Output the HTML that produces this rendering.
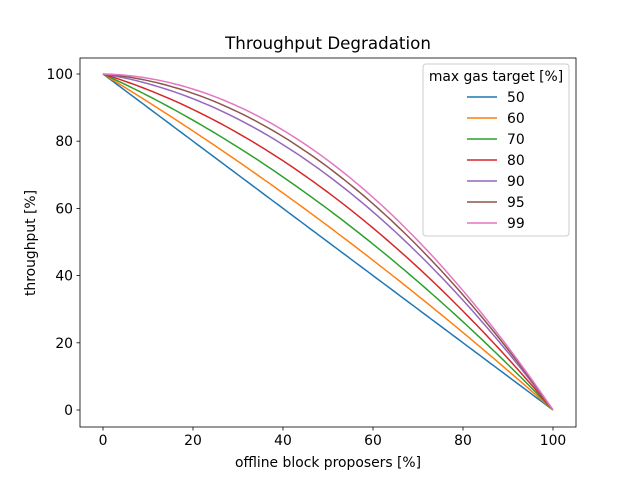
<!DOCTYPE html>
<html><head><meta charset="utf-8"><style>body{margin:0;background:#fff}svg{display:block;font-family:"DejaVu Sans","Liberation Sans",sans-serif}</style></head><body>
<svg id="s" width="640" height="480" xmlns="http://www.w3.org/2000/svg">
<rect width="640" height="480" fill="#fff"/>
<g id="curves"></g>
<rect x="80" y="58" width="496" height="369" fill="none" stroke="#000" stroke-width="0.8"/>
<g font-size="13.9" text-anchor="middle" fill="#000">
<text x="328" y="49" font-size="16.7">Throughput Degradation</text>
<text x="328" y="467">offline block proposers [%]</text>
<text transform="translate(35,243) rotate(-90)">throughput [%]</text>
</g>
<g id="ticks" font-size="13.9" fill="#000"></g>
<rect x="423" y="64" width="146" height="172" rx="3" fill="#fff" fill-opacity="0.8" stroke="#ccc"/>
<text x="496" y="81" font-size="13.9" text-anchor="middle">max gas target [%]</text>
<g id="leg" font-size="13.9"></g>
</svg>
<script>
var ns="http://www.w3.org/2000/svg";
function X(v){return 103+v*4.5}function Y(v){return 410-v*3.36}
function el(t,a,p,txt){var e=document.createElementNS(ns,t);for(var k in a)e.setAttribute(k,a[k]);if(txt)e.textContent=txt;p.appendChild(e);return e}
var tk=document.getElementById('ticks');
for(var i=0;i<=100;i+=20){
el('line',{x1:X(i),x2:X(i),y1:427,y2:430.5,stroke:'#000','stroke-width':0.8},tk);
el('text',{x:X(i),y:445,'text-anchor':'middle'},tk,String(i));
el('line',{x1:76.5,x2:80,y1:Y(i),y2:Y(i),stroke:'#000','stroke-width':0.8},tk);
el('text',{x:73,y:Y(i)+5,'text-anchor':'end'},tk,String(i));
}
var ser=[[50,0,'#1f77b4'],[60,0.19,'#ff7f0e'],[70,0.39,'#2ca02c'],[80,0.59,'#d62728'],[90,0.79,'#9467bd'],[95,0.89,'#8c564b'],[99,0.97,'#e377c2']];
var cg=document.getElementById('curves'),lg=document.getElementById('leg');
ser.forEach(function(s,j){
var pts=[];for(var p=0;p<=100;p+=1){var q=p/100;var v=100*(1-q+s[1]*q*(1-q));pts.push(X(p).toFixed(1)+','+Y(v).toFixed(1))}
el('polyline',{points:pts.join(' '),fill:'none',stroke:s[2],'stroke-width':1.5},cg);
var y=97+j*21;
el('line',{x1:467,x2:497,y1:y,y2:y,stroke:s[2],'stroke-width':1.5},lg);
el('text',{x:507,y:y+5},lg,String(s[0]));
});
</script>
</body></html>
